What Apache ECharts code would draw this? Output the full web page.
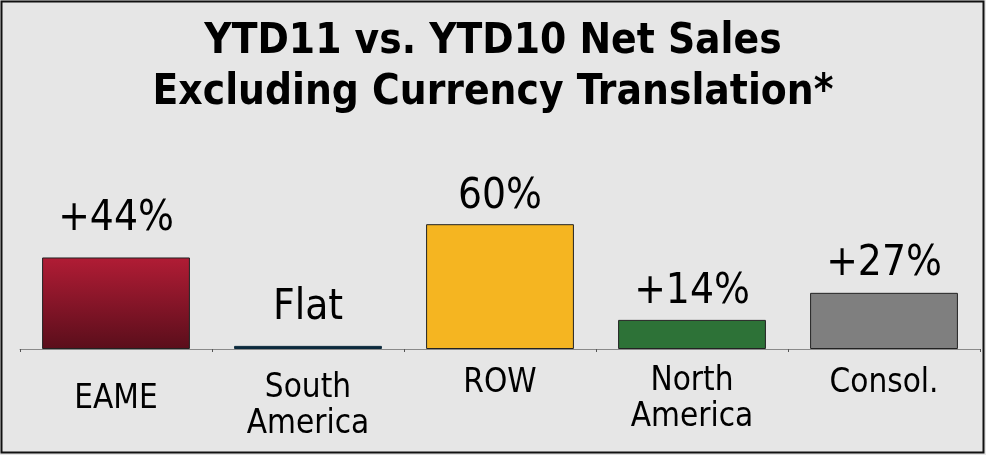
<!DOCTYPE html>
<html>
<head>
<meta charset="utf-8">
<script src="https://cdn.jsdelivr.net/npm/echarts@6/dist/echarts.min.js"></script>
<style>
html,body{margin:0;padding:0;background:#e6e6e6;}
#c{width:986px;height:455px;}
</style>
</head>
<body>
<div id="c"></div>
<script>
var categories = ['EAME', 'South\nAmerica', 'ROW', 'North\nAmerica', 'Consol.'];
var values = [44, 1.5, 60, 14, 27];
var valueLabels = ['+44%', 'Flat', '60%', '+14%', '+27%'];
var titleLines = ['YTD11 vs. YTD10 Net Sales', 'Excluding Currency Translation*'];

var catPad = [19, 8, 3, 1, 3];
var labelDist = [17, 17, 6, 7, 8];
var fills = [
  new echarts.graphic.LinearGradient(0, 0, 0, 1, [{offset: 0, color: '#b11c35'}, {offset: 1, color: '#5a0e1b'}]),
  '#0c2a3d', '#f5b521', '#2d7237', '#7f7f7f'
];

var chart = echarts.init(document.getElementById('c'));
chart.setOption({
  backgroundColor: '#e6e6e6',
  animation: false,
  title: {
    text: titleLines.join('\n'),
    left: 'center',
    top: 12,
    textStyle: {
      fontFamily: 'DejaVu Sans Condensed',
      fontWeight: 'bold',
      fontSize: 42,
      lineHeight: 51,
      color: '#000'
    }
  },
  grid: {left: 20, right: 6, top: 141, bottom: 106},
  xAxis: {
    type: 'category',
    data: categories.map(function (c, i) {
      return {value: c, textStyle: {padding: [catPad[i], 0, 0, 0]}};
    }),
    axisLine: {lineStyle: {color: '#8a8a8a', width: 1}},
    axisTick: {show: true, length: 3, lineStyle: {color: '#555'}},
    axisLabel: {
      margin: 13,
      fontFamily: 'DejaVu Sans Condensed',
      fontSize: 33,
      lineHeight: 36,
      color: '#000',
      interval: 0
    }
  },
  yAxis: {type: 'value', min: 0, max: 100, show: false, splitLine: {show: false}},
  series: [{
    type: 'bar',
    barCategoryGap: '23%',
    data: values.map(function (v, i) {
      return {
        value: v,
        itemStyle: {color: fills[i], borderColor: i === 1 ? '#0c2a3d' : '#222', borderWidth: 1},
        label: {
          show: true,
          position: 'top',
          distance: labelDist[i],
          formatter: valueLabels[i],
          fontFamily: 'DejaVu Sans Condensed',
          fontSize: 42,
          lineHeight: 42,
          color: '#000'
        }
      };
    })
  }],
  graphic: [{
    type: 'rect',
    shape: {x: 1.5, y: 1.5, width: 982, height: 451},
    style: {fill: null, stroke: '#111', lineWidth: 2},
    silent: true
  }]
});
</script>
</body>
</html>
